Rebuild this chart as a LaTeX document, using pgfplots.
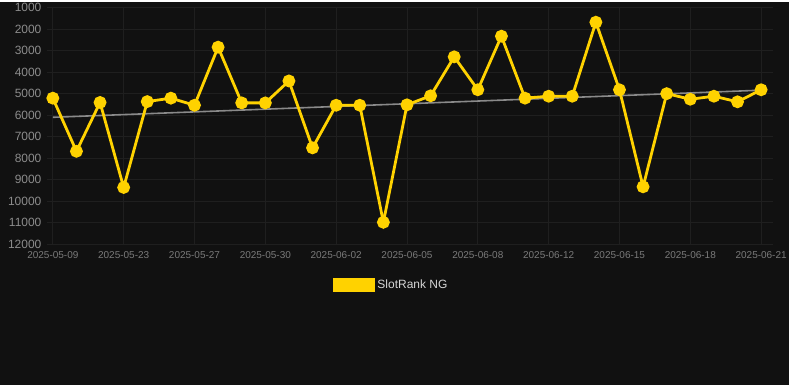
\documentclass[border=0pt]{standalone}
\usepackage{pgfplots}
\pgfplotsset{compat=1.18}
\usepackage{fontspec}
\setmainfont{Liberation Sans}
\definecolor{bg}{HTML}{111111}
\definecolor{gridc}{HTML}{1F1F1F}
\definecolor{gold}{HTML}{FFD200}
\definecolor{trend}{HTML}{8A8A8A}
\definecolor{ylab}{HTML}{8C8C8C}
\definecolor{xlab}{HTML}{7A7A7A}
\definecolor{legtxt}{HTML}{D6D6D6}
\begin{document}
\begin{tikzpicture}[x=1pt,y=1pt]
\fill[bg] (0,0) rectangle (790,-384);
\begin{axis}[
  at={(410.5pt,-124.5pt)}, anchor=center,
  scale only axis, width=727pt, height=237pt,
  y dir=reverse,
  xmin=-0.25, xmax=30.5,
  ymin=1000, ymax=12000,
  ytick={1000,2000,...,12000},
  scaled y ticks=false,
  yticklabel={\pgfmathprintnumber[fixed,precision=0,1000 sep={}]{\tick}},
  xtick={0,3,...,30},
  xticklabels={2025-05-09,2025-05-23,2025-05-27,2025-05-30,2025-06-02,2025-06-05,2025-06-08,2025-06-12,2025-06-15,2025-06-18,2025-06-21},
  /pgf/number format/assume math mode=true,
  yticklabel style={font=\fontsize{12}{14}\selectfont, text=ylab, xshift=-2pt},
  xticklabel style={font=\fontsize{10}{12}\selectfont, text=xlab, yshift=-4pt},
  grid=major,
  major grid style={draw=gridc, line width=0.8pt},
  axis line style={draw=none},
  major tick length=0pt,
  clip=false,
  legend style={at={(0.474,-0.173)}, anchor=center, draw=none, fill=none,
    font=\fontsize{12}{14}\selectfont, text=legtxt},
  legend image code/.code={\fill[gold] (0pt,-5.5pt) rectangle (40pt,5.5pt);},
]
\addplot[trend, line width=1.6pt, forget plot] coordinates {(0,6100) (30,4840)};
\addplot[gold, line width=2.8pt, mark=*, mark size=5pt, mark options={fill=gold, draw=none}] coordinates {
(0,5210) (1,7680) (2,5410) (3,9360) (4,5370) (5,5210) (6,5540) (7,2840)
(8,5430) (9,5430) (10,4410) (11,7520) (12,5540) (13,5540) (14,10980)
(15,5520) (16,5100) (17,3290) (18,4820) (19,2330) (20,5210) (21,5120)
(22,5120) (23,1680) (24,4820) (25,9330) (26,5000) (27,5260) (28,5120)
(29,5380) (30,4820)};
\addlegendentry{SlotRank NG}
\end{axis}
\end{tikzpicture}
\end{document}
